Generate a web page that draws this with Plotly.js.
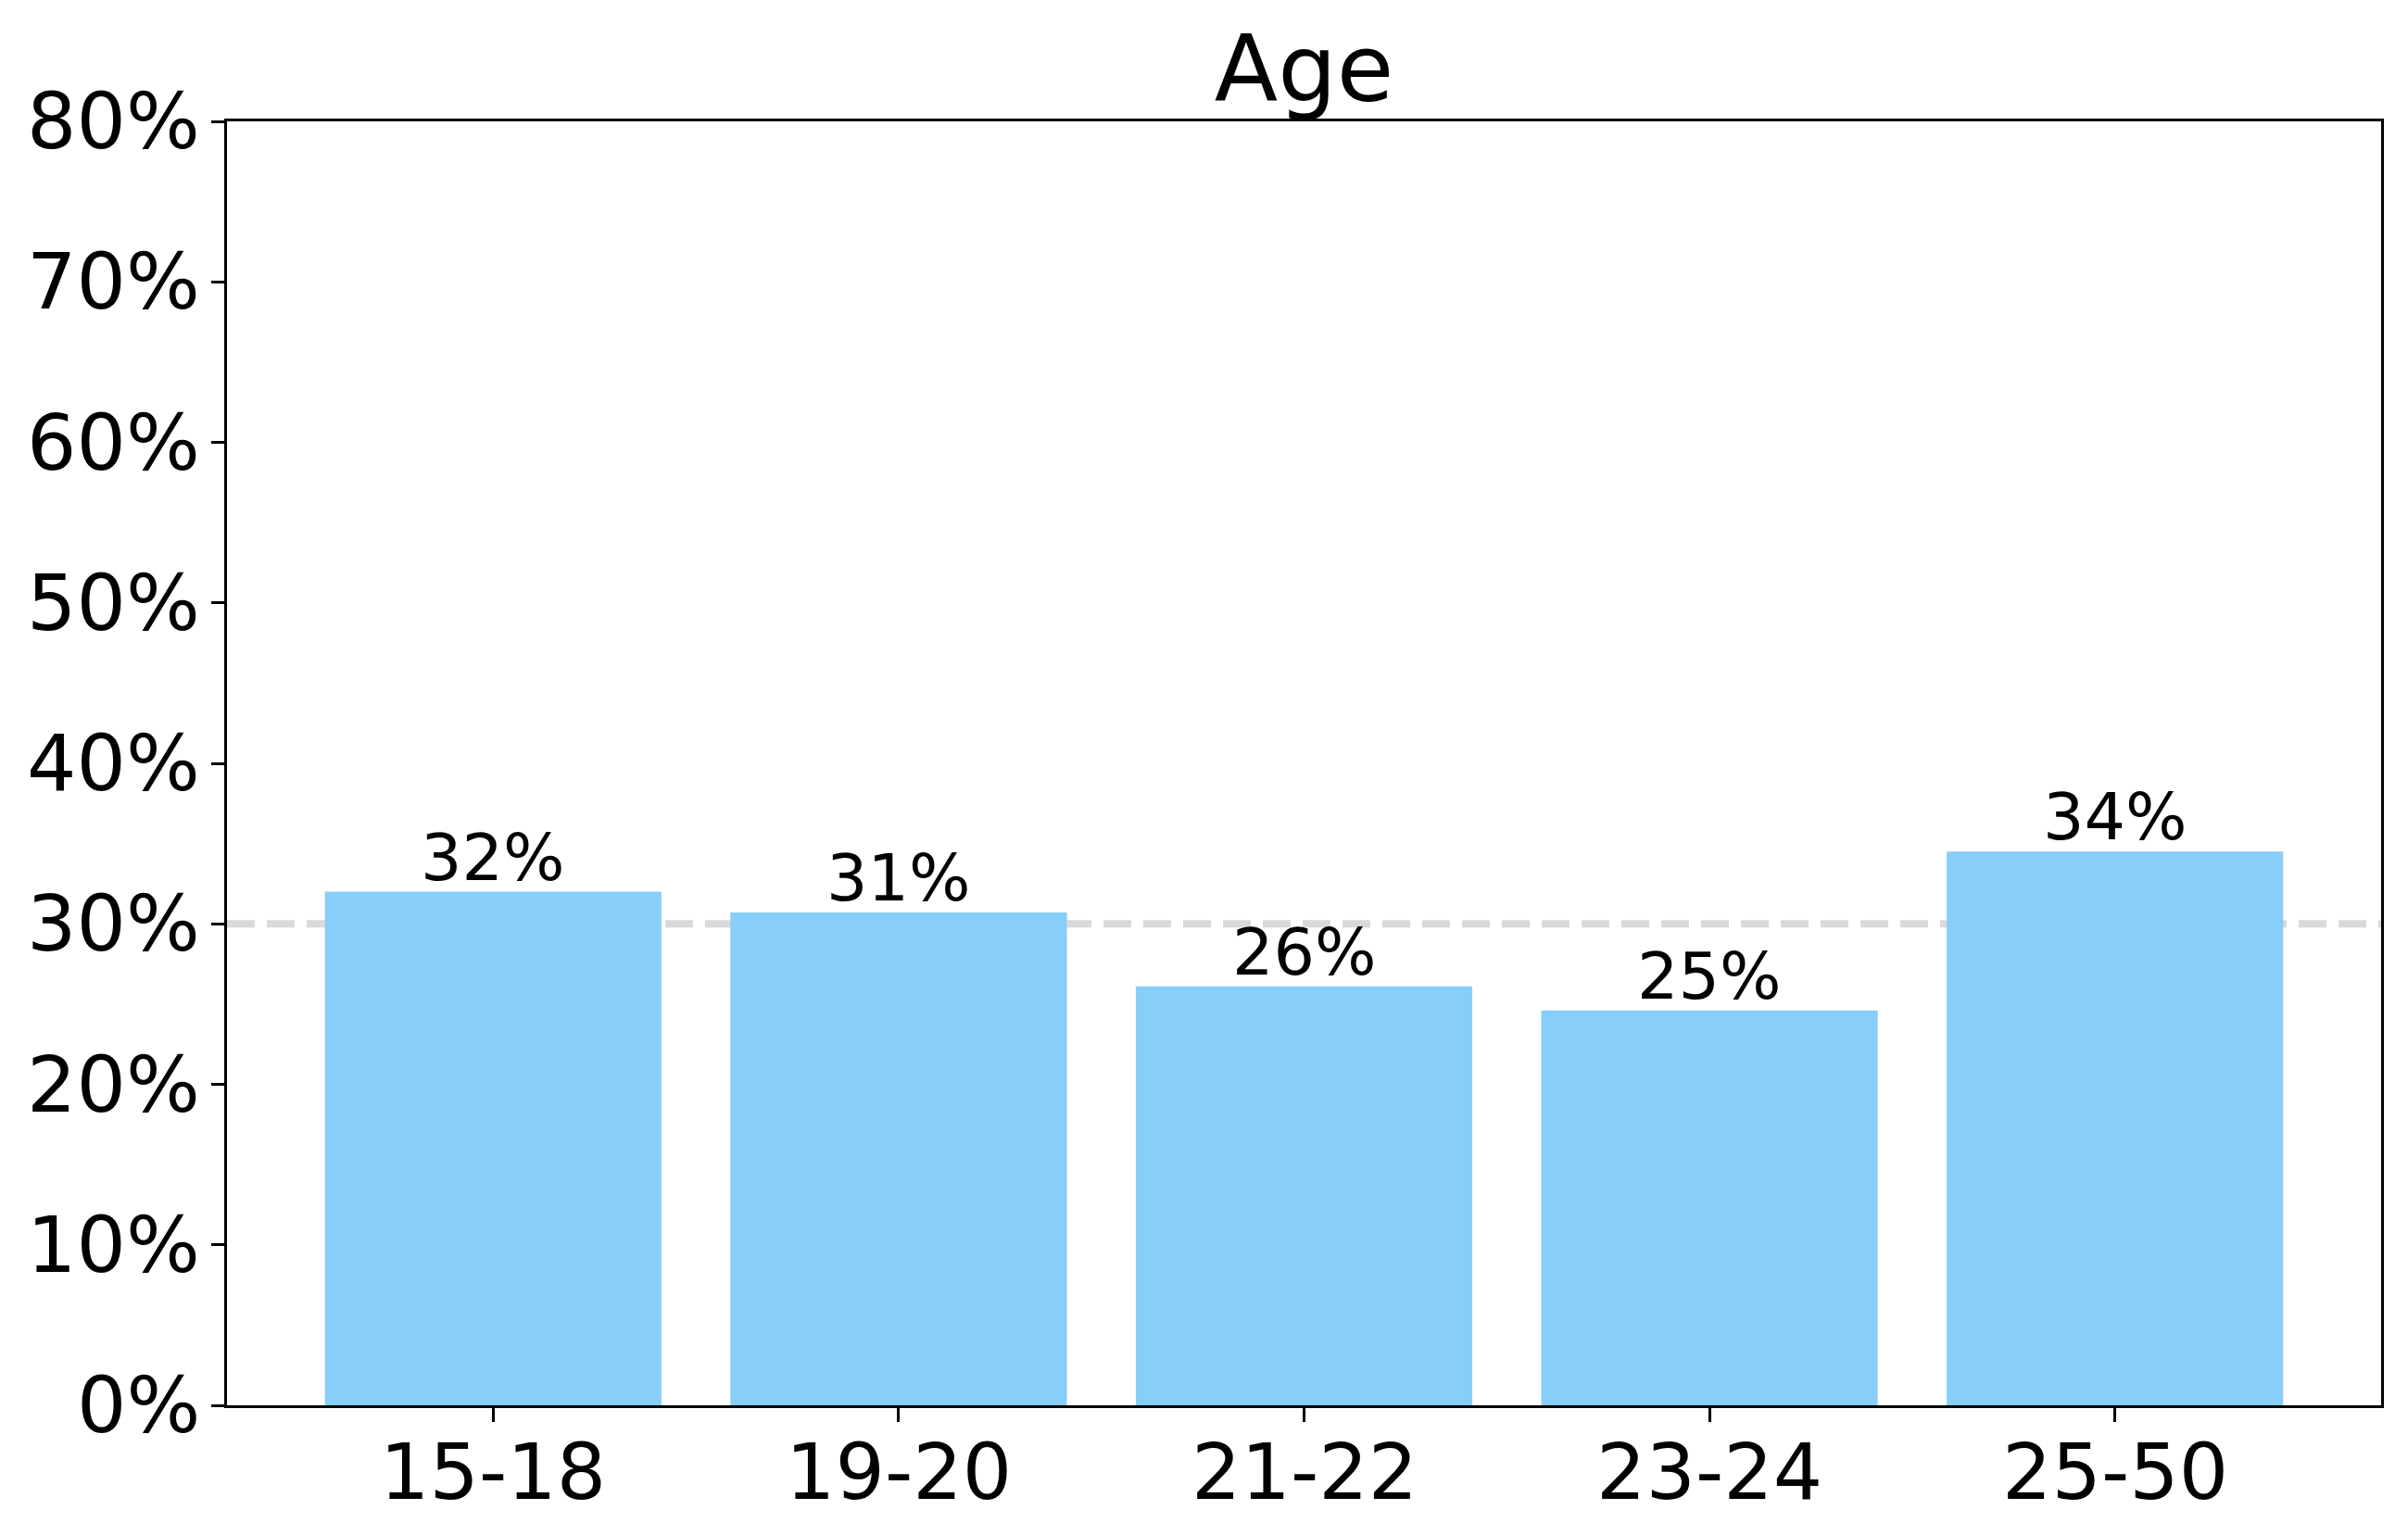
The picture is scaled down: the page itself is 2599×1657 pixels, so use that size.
<!DOCTYPE html>
<html>
<head>
<meta charset="utf-8">
<script src="https://cdn.plot.ly/plotly-3.0.1.min.js"></script>
<style>html,body{margin:0;padding:0;background:#fff;}#chart{width:2599px;height:1657px;}</style>
</head>
<body>
<div id="chart"></div>
<script>
var categories = ["15-18", "19-20", "21-22", "23-24", "25-50"];
var values = [32.0, 30.7, 26.1, 24.6, 34.5];
var valueLabels = ["32%", "31%", "26%", "25%", "34%"];
var referenceLine = 30;
var yTicks = [0, 10, 20, 30, 40, 50, 60, 70, 80];
var yTickLabels = ["0%", "10%", "20%", "30%", "40%", "50%", "60%", "70%", "80%"];

var FONT = "DejaVu Sans, Verdana, sans-serif";
var xPositions = categories.map(function (c, i) { return i; });

var trace = {
  type: "bar",
  x: xPositions,
  y: values,
  marker: {color: "#87CEFA", line: {width: 0}},
  hoverinfo: "none"
};

var annotations = values.map(function (v, i) {
  return {
    x: xPositions[i], y: v, xref: "x", yref: "y",
    text: valueLabels[i], showarrow: false,
    xanchor: "center", yanchor: "bottom", yshift: -6,
    font: {family: FONT, size: 70, color: "#000"}
  };
});

categories.forEach(function (c, i) {
  annotations.push({
    x: xPositions[i], y: 0, xref: "x", yref: "paper",
    text: c, showarrow: false,
    xanchor: "center", yanchor: "top", yshift: -21,
    font: {family: FONT, size: 84, color: "#000"}
  });
});

yTicks.forEach(function (t, i) {
  annotations.push({
    x: 0, y: t, xref: "paper", yref: "y",
    text: yTickLabels[i], showarrow: false,
    xanchor: "right", yanchor: "middle", xshift: -27,
    font: {family: FONT, size: 84, color: "#000"}
  });
});

var layout = {
  width: 2599, height: 1657,
  margin: {l: 245, r: 29, t: 131, b: 140, pad: 0},
  paper_bgcolor: "#fff", plot_bgcolor: "#fff",
  showlegend: false,
  bargap: 0.17,
  font: {family: FONT, color: "#000"},
  title: {
    text: "Age",
    font: {family: FONT, size: 100, color: "#000"},
    x: 0.5, xref: "paper", xanchor: "center",
    y: 1, yref: "paper", yanchor: "bottom",
    pad: {b: 22}
  },
  xaxis: {
    range: [-0.6565, 4.6565],
    tickmode: "array", tickvals: xPositions, ticktext: categories,
    showticklabels: false,
    showgrid: false, zeroline: false,
    showline: true, linecolor: "#000", linewidth: 3, mirror: true,
    ticks: "outside", ticklen: 15, tickwidth: 3, tickcolor: "#000",
    fixedrange: true
  },
  yaxis: {
    range: [0, 80],
    tickmode: "array", tickvals: yTicks, ticktext: yTickLabels,
    showticklabels: false,
    showgrid: false, zeroline: false,
    showline: true, linecolor: "#000", linewidth: 3, mirror: true,
    ticks: "outside", ticklen: 14, tickwidth: 3, tickcolor: "#000",
    fixedrange: true
  },
  shapes: [{
    type: "line", xref: "paper", yref: "y",
    x0: 0, x1: 1, y0: referenceLine, y1: referenceLine,
    line: {color: "#d9d9d9", width: 8, dash: "30px,13px"},
    layer: "below"
  }],
  annotations: annotations
};

Plotly.newPlot("chart", [trace], layout, {displayModeBar: false, staticPlot: true});
</script>
</body>
</html>
